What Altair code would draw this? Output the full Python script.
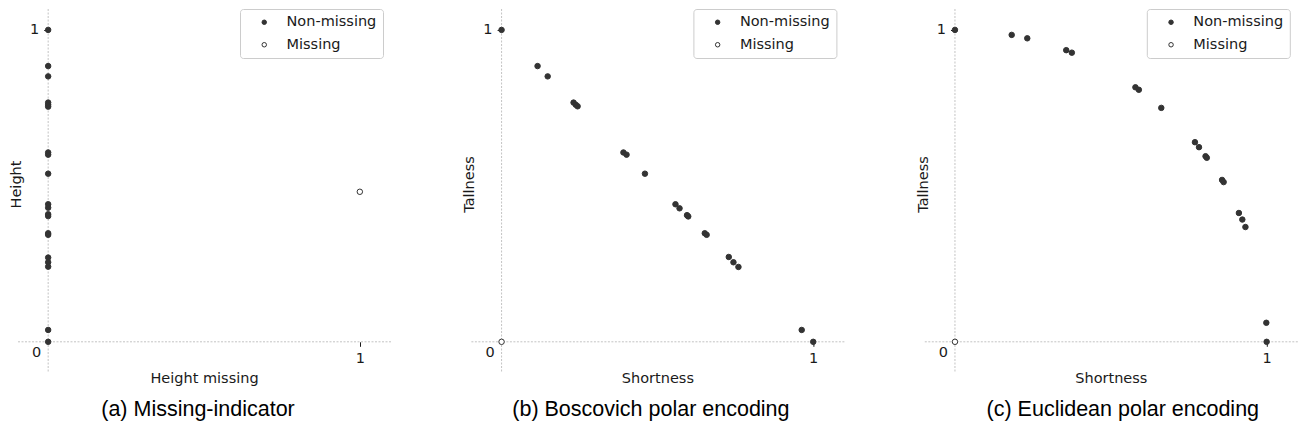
import altair as alt
import pandas as pd

# ---------------- data ----------------
# (a) Missing-indicator: x = "Height missing" (0/1), y = Height
a_height = [1.0, 0.884, 0.851, 0.767, 0.760, 0.754, 0.607, 0.600, 0.539, 0.441,
            0.430, 0.409, 0.403, 0.348, 0.343, 0.270, 0.255, 0.241, 0.038, 0.0]
a_missing_x = [1.0]
a_missing_y = [0.481]

# (b) Boscovich polar encoding
b_short = [0.0, 0.1155, 0.148, 0.231, 0.238, 0.244, 0.391, 0.401, 0.460, 0.558,
           0.571, 0.595, 0.599, 0.652, 0.658, 0.729, 0.744, 0.760, 0.963, 1.0]
b_tall = [1.0, 0.884, 0.851, 0.767, 0.760, 0.755, 0.607, 0.600, 0.539, 0.441,
          0.428, 0.406, 0.402, 0.348, 0.343, 0.272, 0.255, 0.240, 0.038, 0.0]
b_missing_x = [0.0]
b_missing_y = [0.0]

# (c) Euclidean polar encoding
c_short = [0.0, 0.182, 0.232, 0.357, 0.375, 0.579, 0.590, 0.662, 0.770, 0.783,
           0.804, 0.808, 0.857, 0.862, 0.911, 0.922, 0.932, 0.999, 1.0]
c_tall = [1.0, 0.984, 0.973, 0.935, 0.927, 0.816, 0.808, 0.750, 0.640, 0.624,
          0.595, 0.590, 0.519, 0.512, 0.413, 0.392, 0.368, 0.061, 0.0]
c_missing_x = [0.0]
c_missing_y = [0.0]

status_labels = ["Non-missing", "Missing"]
tick_values = [1]
origin_label = "0"

# ---------------- styling ----------------
DARK = "#333333"
INK = "#1a1a1a"
GRID = "#b4b4b4"
FONT = "DejaVu Sans"
FS = 14.5
W, H = 374, 364
X_DOMAIN = [-0.1, 1.1]
Y_DOMAIN = [-0.1, 1.067]
AX_OFF = -31.2


def make_df(xs, ys, mx, my):
    rows = [{"x": x, "y": y, "status": status_labels[0]} for x, y in zip(xs, ys)]
    rows += [{"x": x, "y": y, "status": status_labels[1]} for x, y in zip(mx, my)]
    return pd.DataFrame(rows)


def axis(title, label_pad, title_pad, **extra):
    return alt.Axis(
        values=tick_values, format="d", title=title, offset=AX_OFF,
        domain=False, grid=False, tickSize=4.5, tickColor=INK, tickWidth=1,
        labelFont=FONT, labelFontSize=FS, labelColor=INK, labelPadding=label_pad,
        labelFlush=False,
        titleFont=FONT, titleFontSize=FS, titleFontWeight="normal",
        titleColor=INK, titlePadding=title_pad, **extra)


def panel(df, xtitle, ytitle, caption, cap_dx):
    xs = alt.Scale(domain=X_DOMAIN, nice=False, zero=False)
    ys = alt.Scale(domain=Y_DOMAIN, nice=False, zero=False)
    xa = axis(xtitle, 5, 7)
    ya = axis(ytitle, 5, 6, titleY=175)
    zero_df = pd.DataFrame({"z": [0]})

    vline = alt.Chart(zero_df).mark_rule(
        color=GRID, strokeWidth=0.8, strokeDash=[2, 1.5]
    ).encode(x=alt.X("z:Q", scale=xs, axis=xa))
    hline = alt.Chart(zero_df).mark_rule(
        color=GRID, strokeWidth=0.8, strokeDash=[2, 1.5]
    ).encode(y=alt.Y("z:Q", scale=ys, axis=ya))

    pts = alt.Chart(df).mark_point(
        filled=True, stroke=DARK, strokeWidth=1, size=30, opacity=1
    ).encode(
        x=alt.X("x:Q", scale=xs, axis=xa),
        y=alt.Y("y:Q", scale=ys, axis=ya),
        fill=alt.Fill("status:N", scale=alt.Scale(domain=status_labels, range=[DARK, "white"]),
                      legend=alt.Legend(
                          title=None, orient="none", legendX=223, legendY=0,
                          direction="vertical", fillColor="white", strokeColor="#cccccc",
                          cornerRadius=3, padding=6, symbolType="circle", symbolSize=20,
                          symbolStrokeColor=DARK, symbolStrokeWidth=1, symbolOffset=11,
                          labelOffset=15, labelFont=FONT, labelFontSize=FS, labelColor=INK,
                          rowPadding=7.5)),
    )

    zero_txt = alt.Chart(zero_df).mark_text(
        text=origin_label, dx=-11.5, dy=11, font=FONT, fontSize=FS, color=INK,
        align="center", baseline="middle"
    ).encode(x=alt.X("z:Q", scale=xs, axis=xa), y=alt.Y("z:Q", scale=ys, axis=ya))

    return alt.layer(vline, hline, pts, zero_txt).properties(
        width=W, height=H,
        title=alt.TitleParams(caption, orient="bottom", anchor="middle",
                              font="Liberation Sans", fontSize=21.5, fontWeight="normal",
                              color="#000000", offset=14, dx=cap_dx),
    )


pa = panel(make_df([0.0] * len(a_height), a_height, a_missing_x, a_missing_y),
           "Height missing", "Height", "(a) Missing-indicator", -6)
pb = panel(make_df(b_short, b_tall, b_missing_x, b_missing_y),
           "Shortness", "Tallness", "(b) Boscovich polar encoding", -6.5)
pc = panel(make_df(c_short, c_tall, c_missing_x, c_missing_y),
           "Shortness", "Tallness", "(c) Euclidean polar encoding", 12)

chart = alt.hconcat(pa, pb, pc, spacing=79.4, bounds="flush").resolve_scale(
    fill="independent").resolve_legend(fill="independent").properties(
    padding=0).configure_view(strokeWidth=0)

chart.save("out.html", embed_options={"renderer": "svg", "actions": False})
